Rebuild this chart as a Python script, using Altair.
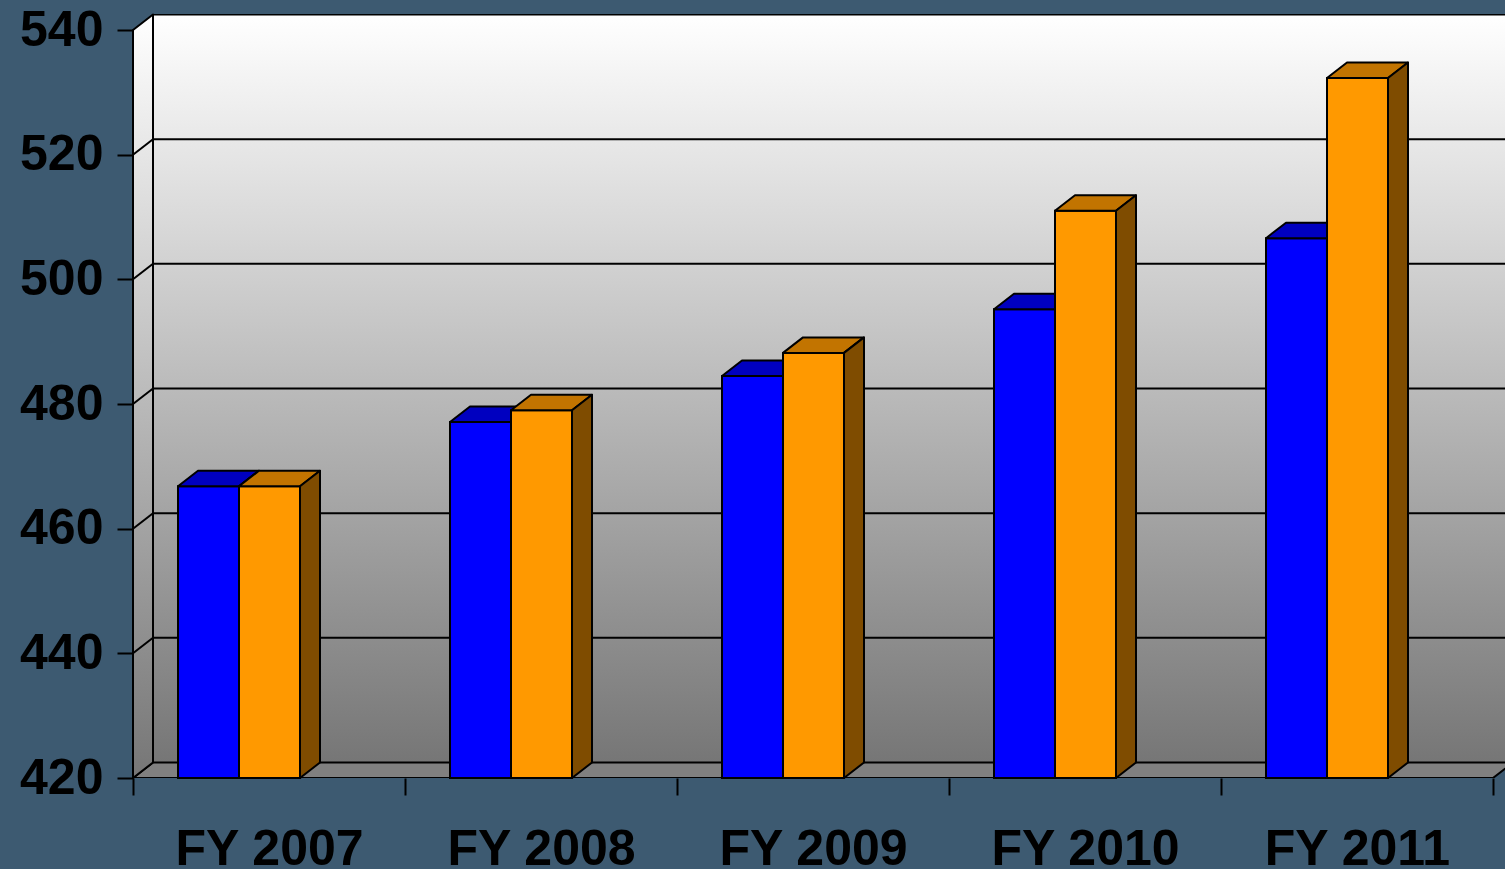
import json
import altair as alt
import pandas as pd

# ---------------- data ----------------
categories = ["FY 2007", "FY 2008", "FY 2009", "FY 2010", "FY 2011"]
blue_values = [466.8, 477.1, 484.5, 495.2, 506.6]
orange_values = [466.8, 479.0, 488.2, 511.0, 532.3]
y_ticks = [420, 440, 460, 480, 500, 520, 540]

# ---------------- style / geometry ----------------
BG = "#3d5a71"
FONT = "Liberation Sans"
W, H = 1372, 764
CAT_PX = 272.0
UNIT_PX = 748.0 / 120.0
Y0, YTOP = y_ticks[0], y_ticks[-1]
Y1 = Y0 + H / UNIT_PX
NCAT = len(categories)
X1 = W / CAT_PX
DX = 20.0 / CAT_PX
DY = 15.5 / UNIT_PX

series = [
    dict(values=blue_values, left=45 / CAT_PX, right=106 / CAT_PX,
         front="#0000ff", top="#0000c0", side="#000080"),
    dict(values=orange_values, left=106 / CAT_PX, right=167 / CAT_PX,
         front="#ff9900", top="#c27400", side="#7f4c00"),
]

wall_grad = {"gradient": "linear", "x1": 0, "y1": 0, "x2": 0, "y2": 1,
             "stops": [{"offset": 0, "color": "#ffffff"},
                       {"offset": 1, "color": "#767676"}]}

xs = alt.Scale(domain=[0, X1], nice=False, zero=False)
ys = alt.Scale(domain=[Y0, Y1], nice=False, zero=False)

label_expr = ("datum.value % 1 === 0.5 ? " + json.dumps(categories) +
              "[floor(datum.value)] : ''")
x_axis = alt.Axis(values=[k / 2 for k in range(2 * NCAT + 1)], title=None,
                  domain=False, grid=False, tickSize=17, tickWidth=2,
                  tickColor="black",
                  tickOpacity={"condition": {"test": "datum.value % 1 === 0", "value": 1}, "value": 0},
                  labelExpr=label_expr, labelFont=FONT, labelFontSize=50,
                  labelFontWeight="bold", labelColor="black", labelPadding=29,
                  labelFlush=False, labelOverlap=False, labelLimit=0)
y_axis = alt.Axis(values=y_ticks, title=None, domain=False, grid=False,
                  tickSize=16, tickWidth=2, tickColor="black", format="d",
                  labelFont=FONT, labelFontSize=50, labelFontWeight="bold",
                  labelColor="black", labelPadding=14, labelFlush=False,
                  labelOverlap=False, labelLimit=0)


def X(f):
    return alt.X(f + ":Q", scale=xs, axis=x_axis)


def Y(f):
    return alt.Y(f + ":Q", scale=ys, axis=y_axis, stack=None)


def area_layer(rows, fill, clip=False):
    df = pd.DataFrame(rows)
    return alt.Chart(df).mark_area(fill=fill, stroke="black", strokeWidth=2,
                                   strokeJoin="round", orient="vertical",
                                   clip=clip).encode(
        x=X("x"), y=Y("lo"), y2="hi", detail="id:N")


def rule_layer(rows, clip=True):
    df = pd.DataFrame(rows)
    return alt.Chart(df).mark_rule(color="black", strokeWidth=2, clip=clip).encode(
        x=X("x"), x2="x2", y=Y("y"), y2="y2")


layers = []

# back wall
layers.append(alt.Chart(pd.DataFrame([{"x": DX, "x2": X1 + 1, "y": Y0 + DY, "y2": YTOP + DY}]))
              .mark_rect(fill=wall_grad, clip=True)
              .encode(x=X("x"), x2="x2", y=Y("y"), y2="y2"))
# back wall gridlines + left edge
grid_rows = [{"x": DX, "x2": X1 + 1, "y": v + DY, "y2": v + DY} for v in y_ticks[1:]]
grid_rows.append({"x": DX, "x2": DX, "y": Y0 + DY, "y2": YTOP + DY})
layers.append(rule_layer(grid_rows))

# floor
layers.append(area_layer([
    {"id": 0, "x": 0, "lo": Y0, "hi": Y0},
    {"id": 0, "x": DX, "lo": Y0, "hi": Y0 + DY},
    {"id": 0, "x": NCAT, "lo": Y0, "hi": Y0 + DY},
    {"id": 0, "x": NCAT + DX, "lo": Y0 + DY, "hi": Y0 + DY},
], "#808080", clip=True))

# left wall
layers.append(area_layer([
    {"id": 0, "x": 0, "lo": Y0, "hi": YTOP},
    {"id": 0, "x": DX, "lo": Y0 + DY, "hi": YTOP + DY},
], wall_grad))
layers.append(rule_layer([{"x": 0, "x2": DX, "y": v, "y2": v + DY} for v in y_ticks[1:-1]]))

# bars
for s in series:
    fronts, tops, sides = [], [], []
    for i, v in enumerate(s["values"]):
        xl, xr = i + s["left"], i + s["right"]
        fronts.append({"x": xl, "x2": xr, "y": Y0, "y2": v})
        tops += [
            {"id": i, "x": xl, "lo": v, "hi": v},
            {"id": i, "x": xl + DX, "lo": v, "hi": v + DY},
            {"id": i, "x": xr, "lo": v, "hi": v + DY},
            {"id": i, "x": xr + DX, "lo": v + DY, "hi": v + DY},
        ]
        sides += [
            {"id": i, "x": xr, "lo": Y0, "hi": v},
            {"id": i, "x": xr + DX, "lo": Y0 + DY, "hi": v + DY},
        ]
    layers.append(alt.Chart(pd.DataFrame(fronts))
                  .mark_rect(fill=s["front"], stroke="black", strokeWidth=2)
                  .encode(x=X("x"), x2="x2", y=Y("y"), y2="y2"))
    layers.append(area_layer(tops, s["top"]))
    layers.append(area_layer(sides, s["side"]))

chart = (alt.layer(*layers)
         .properties(width=W, height=H, background=BG,
                     autosize=alt.AutoSizeParams(type="none"),
                     padding={"left": 133, "top": 869 - 91 - H, "right": 0, "bottom": 91})
         .configure_view(strokeWidth=0))

chart.save("out.html", embed_options={"renderer": "svg", "actions": False})
